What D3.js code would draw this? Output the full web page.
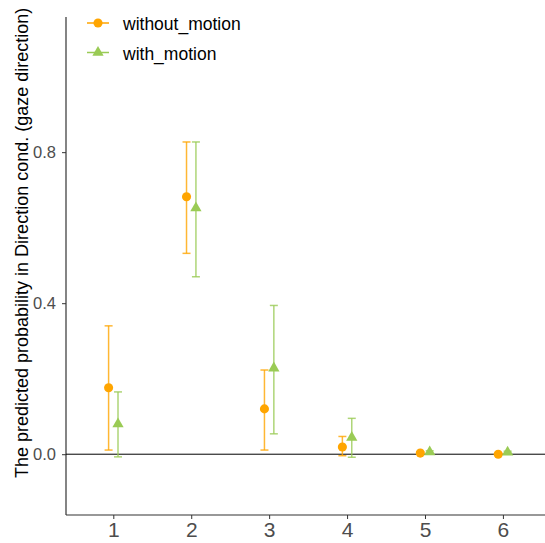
<!DOCTYPE html>
<html>
<head>
<meta charset="utf-8">
<script src="https://cdn.jsdelivr.net/npm/d3@7"></script>
<style>
  body { margin: 0; background: #fff; }
  text { font-family: "Liberation Sans", Arial, sans-serif; }
</style>
</head>
<body>
<div id="chart"></div>
<script>
const categories = [1, 2, 3, 4, 5, 6];
const seriesNames = ['without_motion', 'with_motion'];
// point estimates and error bar bounds
const withoutMean = [0.176, 0.682, 0.120, 0.019, 0.003, 0.000];
const withoutLow  = [0.011, 0.532, 0.011, -0.004, 0.000, 0.000];
const withoutHigh = [0.340, 0.827, 0.223, 0.047, 0.006, 0.001];
const withMean = [0.080, 0.652, 0.228, 0.044, 0.006, 0.005];
const withLow  = [-0.007, 0.470, 0.054, -0.008, 0.003, 0.003];
const withHigh = [0.165, 0.827, 0.394, 0.095, 0.009, 0.008];
const yTicks = [0.0, 0.4, 0.8];

const W = 545, H = 543;
const svg = d3.select('#chart').append('svg').attr('width', W).attr('height', H);

const panelLeft = 66, panelBottom = 515, panelTop = 17;
const x = d3.scaleLinear().domain([0.393, 6.54]).range([panelLeft, W]);
const y = d3.scaleLinear().domain([-0.161, 1.158]).range([panelBottom, panelTop]);
const dodge = 4.7;

const colors = { without_motion: '#FFA500', with_motion: '#9ACB55' };

const rows = [];
categories.forEach((c, i) => {
  rows.push({ cat: c, s: 'without_motion', m: withoutMean[i], lo: withoutLow[i], hi: withoutHigh[i], off: -dodge });
  rows.push({ cat: c, s: 'with_motion', m: withMean[i], lo: withLow[i], hi: withHigh[i], off: dodge });
});

// axes
const yAxis = svg.append('g').attr('transform', `translate(${panelLeft},0)`)
  .call(d3.axisLeft(y).tickValues(yTicks).tickFormat(d3.format('.1f')).tickSize(4).tickPadding(6));
yAxis.select('.domain').remove();
yAxis.selectAll('line').attr('stroke', '#333');
yAxis.selectAll('text').attr('fill', '#4D4D4D').style('font-size', '16.5px');

const xAxis = svg.append('g').attr('transform', `translate(0,${panelBottom})`)
  .call(d3.axisBottom(x).tickValues(categories).tickFormat(d3.format('d')).tickSize(4).tickPadding(3));
xAxis.select('.domain').remove();
xAxis.selectAll('line').attr('stroke', '#333');
xAxis.selectAll('text').attr('fill', '#4D4D4D').style('font-size', '21px');

svg.append('line').attr('x1', panelLeft).attr('x2', panelLeft).attr('y1', panelTop).attr('y2', panelBottom)
  .attr('stroke', '#333').attr('stroke-width', 1.2);
svg.append('line').attr('x1', panelLeft).attr('x2', W).attr('y1', panelBottom).attr('y2', panelBottom)
  .attr('stroke', '#333').attr('stroke-width', 1.2);

// zero reference line
svg.append('line').attr('x1', panelLeft).attr('x2', W).attr('y1', y(0)).attr('y2', y(0))
  .attr('stroke', '#000').attr('stroke-width', 1);

// error bars
const eb = svg.append('g').selectAll('g').data(rows).join('g')
  .attr('stroke', d => colors[d.s]).attr('stroke-opacity', 0.8).attr('stroke-width', 1.5);
eb.append('line')
  .attr('x1', d => x(d.cat) + d.off).attr('x2', d => x(d.cat) + d.off)
  .attr('y1', d => y(d.lo)).attr('y2', d => y(d.hi));
eb.append('line')
  .attr('x1', d => x(d.cat) + d.off - 4).attr('x2', d => x(d.cat) + d.off + 4)
  .attr('y1', d => y(d.lo)).attr('y2', d => y(d.lo));
eb.append('line')
  .attr('x1', d => x(d.cat) + d.off - 4).attr('x2', d => x(d.cat) + d.off + 4)
  .attr('y1', d => y(d.hi)).attr('y2', d => y(d.hi));

// points
const circ = d3.symbol().type(d3.symbolCircle).size(65);
const tri = d3.symbol().type(d3.symbolTriangle).size(55);
svg.append('g').selectAll('path').data(rows).join('path')
  .attr('d', d => d.s === 'without_motion' ? circ() : tri())
  .attr('transform', d => `translate(${x(d.cat) + d.off},${y(d.m)})`)
  .attr('fill', d => colors[d.s]);

// y title
svg.append('text')
  .attr('transform', `translate(28,478) rotate(-90)`)
  .attr('text-anchor', 'start')
  .style('font-size', '18px').attr('fill', '#000')
  .text('The predicted probability in Direction cond. (gaze direction)');

// legend
const lg = svg.append('g');
seriesNames.forEach((s, i) => {
  const ly = 23 + i * 29.5;
  lg.append('line').attr('x1', 87).attr('x2', 109).attr('y1', ly).attr('y2', ly)
    .attr('stroke', colors[s]).attr('stroke-width', 1.5);
  lg.append('path').attr('d', i === 0 ? circ() : tri())
    .attr('transform', `translate(98,${ly})`).attr('fill', colors[s]);
  lg.append('text').attr('x', 123).attr('y', ly + 7).style('font-size', '17.5px')
    .attr('fill', '#000').text(s);
});
</script>
</body>
</html>
